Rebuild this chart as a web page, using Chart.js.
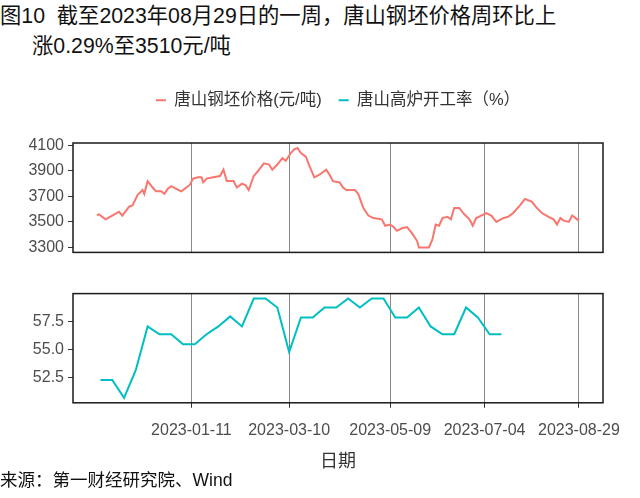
<!DOCTYPE html>
<html>
<head>
<meta charset="utf-8">
<script src="https://cdn.jsdelivr.net/npm/chart.js@4.4.0/dist/chart.umd.min.js"></script>
<style>
    body {
        margin: 0;
        width: 640px;
        height: 498px;
        overflow: hidden;
        background: #fff;
        position: relative;
        font-family: "Liberation Sans", "Noto Sans CJK SC", sans-serif;
        color: #111;
    }
    .title {
        position: absolute;
        left: 0;
        top: 1px;
        font-size: 21.3px;
        line-height: 30px;
        white-space: nowrap;
    }
    .source {
        position: absolute;
        left: 0;
        top: 468px;
        font-size: 17.5px;
        line-height: 24px;
        white-space: nowrap;
    }
    canvas { position: absolute; left: 0; }
    #priceChart { top: 75px; }
    #rateChart { top: 280px; }
</style>
</head>
<body>
<div class="title">图10&nbsp;&nbsp;截至2023年08月29日的一周，唐山钢坯价格周环比上<br><span style="padding-left:32px">涨0.29%至3510元/吨</span></div>
<canvas id="priceChart" width="640" height="191"></canvas>
<canvas id="rateChart" width="640" height="193"></canvas>
<div class="source">来源：第一财经研究院、Wind</div>

<script>
// 唐山钢坯价格 (元/吨)
const priceDates = [
    '2022-11-16', '2022-11-17', '2022-11-21', '2022-11-25', '2022-11-29', '2022-12-01',
    '2022-12-05', '2022-12-07', '2022-12-10', '2022-12-13', '2022-12-14', '2022-12-16',
    '2022-12-19', '2022-12-21', '2022-12-24', '2022-12-26', '2022-12-28', '2022-12-30',
    '2023-01-02', '2023-01-05', '2023-01-08', '2023-01-10', '2023-01-12', '2023-01-15',
    '2023-01-17', '2023-01-18', '2023-01-20', '2023-01-24', '2023-01-28', '2023-01-30',
    '2023-02-01', '2023-02-05', '2023-02-07', '2023-02-10', '2023-02-12', '2023-02-14',
    '2023-02-17', '2023-02-19', '2023-02-23', '2023-02-26', '2023-02-28', '2023-03-03',
    '2023-03-06', '2023-03-08', '2023-03-11', '2023-03-13', '2023-03-15', '2023-03-17',
    '2023-03-20', '2023-03-22', '2023-03-25', '2023-03-28', '2023-04-01', '2023-04-03',
    '2023-04-05', '2023-04-09', '2023-04-11', '2023-04-13', '2023-04-18', '2023-04-20',
    '2023-04-23', '2023-04-26', '2023-04-29', '2023-05-04', '2023-05-06', '2023-05-09',
    '2023-05-11', '2023-05-13', '2023-05-16', '2023-05-19', '2023-05-22', '2023-05-25',
    '2023-05-26', '2023-06-01', '2023-06-03', '2023-06-05', '2023-06-07', '2023-06-09',
    '2023-06-12', '2023-06-14', '2023-06-16', '2023-06-19', '2023-06-22', '2023-06-25',
    '2023-06-27', '2023-06-29', '2023-07-02', '2023-07-05', '2023-07-08', '2023-07-11',
    '2023-07-15', '2023-07-18', '2023-07-21', '2023-07-25', '2023-07-28', '2023-08-01',
    '2023-08-04', '2023-08-07', '2023-08-11', '2023-08-14', '2023-08-16', '2023-08-18',
    '2023-08-20', '2023-08-23', '2023-08-25', '2023-08-27', '2023-08-29'
];
const priceValues = [
    3550, 3560, 3520, 3550, 3580, 3550,
    3620, 3630, 3710, 3750, 3720, 3820,
    3770, 3740, 3740, 3720, 3760, 3780,
    3760, 3740, 3770, 3790, 3840, 3850,
    3850, 3810, 3840, 3850, 3860, 3910,
    3820, 3820, 3770, 3800, 3790, 3750,
    3860, 3890, 3960, 3950, 3910, 3950,
    4000, 3980, 4040, 4070, 4080, 4040,
    4010, 3940, 3850, 3870, 3910, 3870,
    3820, 3810, 3770, 3750, 3750, 3720,
    3610, 3550, 3530, 3520, 3470, 3480,
    3460, 3430, 3450, 3460, 3410, 3350,
    3300, 3300, 3360, 3480, 3470, 3530,
    3540, 3520, 3610, 3610, 3560, 3520,
    3470, 3530, 3550, 3570, 3550, 3500,
    3530, 3540, 3570, 3630, 3680, 3660,
    3610, 3570, 3540, 3520, 3480, 3530,
    3510, 3500, 3550, 3530, 3510
];

// 唐山高炉开工率 (%), weekly
const rateDates = [
    '2022-11-18', '2022-11-25', '2022-12-02', '2022-12-09', '2022-12-16', '2022-12-23',
    '2022-12-30', '2023-01-06', '2023-01-13', '2023-01-20', '2023-01-27', '2023-02-03',
    '2023-02-10', '2023-02-17', '2023-02-24', '2023-03-03', '2023-03-10', '2023-03-17',
    '2023-03-24', '2023-03-31', '2023-04-07', '2023-04-14', '2023-04-21', '2023-04-28',
    '2023-05-05', '2023-05-12', '2023-05-19', '2023-05-26', '2023-06-02', '2023-06-09',
    '2023-06-16', '2023-06-23', '2023-06-30', '2023-07-07', '2023-07-14'
];
const rateValues = [
    52.3, 52.3, 50.7, 53.2, 57.1, 56.4,
    56.4, 55.5, 55.5, 56.4, 57.1, 58.0,
    57.1, 59.6, 59.6, 58.8, 54.8, 57.9,
    57.9, 58.8, 58.8, 59.6, 58.8, 59.6,
    59.6, 57.9, 57.9, 58.8, 57.1, 56.4,
    56.4, 58.8, 57.9, 56.4, 56.4
];

const dateTicks = ['2023-01-11', '2023-03-10', '2023-05-09', '2023-07-04', '2023-08-29'];
const priceTicks = [3300, 3500, 3700, 3900, 4100];
const rateTicks = [52.5, 55.0, 57.5];

const RED = '#F8766D';
const TEAL = '#00BFC4';
const FONT = '"Liberation Sans", "Noto Sans CJK SC", sans-serif';

function toDay(s) {
    const [y, m, d] = s.split('-').map(Number);
    return Date.UTC(y, m - 1, d) / 86400000;
}
function dayLabel(v) {
    return new Date(Math.round(v) * 86400000).toISOString().slice(0, 10);
}
// ggplot style 5% expansion of the data range
function expand(lo, hi) {
    const pad = (hi - lo) * 0.05;
    return [lo - pad, hi + pad];
}

const allDays = priceDates.concat(rateDates).map(toDay);
const [xMin, xMax] = expand(Math.min(...allDays), Math.max(...allDays));
const [pMin, pMax] = expand(Math.min(...priceValues), Math.max(...priceValues));
const [rMin, rMax] = expand(Math.min(...rateValues), Math.max(...rateValues));

// panel border
const frame = {
    id: 'frame',
    afterDraw(chart) {
        const a = chart.chartArea, ctx = chart.ctx;
        ctx.save();
        ctx.strokeStyle = '#1a1a1a';
        ctx.lineWidth = 1.5;
        ctx.strokeRect(a.left, a.top, a.right - a.left, a.bottom - a.top);
        ctx.restore();
    }
};

// room between legend and top panel
const legendSpace = {
    id: 'legendSpace',
    beforeInit(chart) {
        const fit = chart.legend.fit;
        chart.legend.fit = function () {
            fit.call(this);
            this.height = 68;
        };
    }
};

function xScale(showLabels) {
    return {
        type: 'linear',
        min: xMin,
        max: xMax,
        afterBuildTicks: s => { s.ticks = dateTicks.map(d => ({ value: toDay(d) })); },
        grid: { color: '#8a8a8a', lineWidth: 1, drawTicks: showLabels, tickLength: 5, tickColor: '#333' },
        border: { display: false },
        ticks: {
            display: showLabels,
            maxRotation: 0,
            padding: 13,
            color: '#4d4d4d',
            font: { family: FONT, size: 16 },
            callback: v => dayLabel(v)
        },
        title: {
            display: showLabels,
            text: '日期',
            color: '#333',
            font: { family: FONT, size: 18, lineHeight: 1.0 },
            padding: { top: 0, bottom: 0 }
        }
    };
}

function yScale(min, max, tickValues, fmt) {
    return {
        min: min,
        max: max,
        afterBuildTicks: s => { s.ticks = tickValues.map(v => ({ value: v })); },
        afterFit: s => { s.width = 73; },
        grid: { drawOnChartArea: false, tickLength: 5, color: '#333' },
        border: { display: false },
        ticks: {
            padding: 4,
            color: '#4d4d4d',
            font: { family: FONT, size: 16 },
            callback: fmt
        }
    };
}

new Chart(document.getElementById('priceChart'), {
    type: 'line',
    data: {
        datasets: [{
            label: '唐山钢坯价格(元/吨)',
            data: priceDates.map((d, i) => ({ x: toDay(d), y: priceValues[i] })),
            borderColor: RED,
            borderWidth: 2,
            pointRadius: 0,
            tension: 0
        }]
    },
    options: {
        responsive: false,
        animation: false,
        layout: { padding: { left: 0, right: 37, top: 0, bottom: 0 } },
        plugins: {
            tooltip: { enabled: false },
            legend: {
                fullSize: false,
                labels: {
                    usePointStyle: true,
                    pointStyleWidth: 10,
                    boxHeight: 10,
                    padding: 17,
                    color: '#333',
                    font: { family: FONT, size: 16.5 },
                    generateLabels: () => [
                        { text: '唐山钢坯价格(元/吨)', strokeStyle: RED, fillStyle: RED, lineWidth: 2, pointStyle: 'line', fontColor: '#333' },
                        { text: '唐山高炉开工率（%）', strokeStyle: TEAL, fillStyle: TEAL, lineWidth: 2, pointStyle: 'line', fontColor: '#333' }
                    ]
                }
            }
        },
        scales: {
            x: xScale(false),
            y: yScale(pMin, pMax, priceTicks, v => String(v))
        }
    },
    plugins: [frame, legendSpace]
});

new Chart(document.getElementById('rateChart'), {
    type: 'line',
    data: {
        datasets: [{
            label: '唐山高炉开工率（%）',
            data: rateDates.map((d, i) => ({ x: toDay(d), y: rateValues[i] })),
            borderColor: TEAL,
            borderWidth: 2,
            pointRadius: 0,
            tension: 0
        }]
    },
    options: {
        responsive: false,
        animation: false,
        layout: { padding: { left: 0, right: 37, top: 13, bottom: 2 } },
        plugins: {
            tooltip: { enabled: false },
            legend: { display: false }
        },
        scales: {
            x: xScale(true),
            y: yScale(rMin, rMax, rateTicks, v => v.toFixed(1))
        }
    },
    plugins: [frame]
});
</script>
</body>
</html>
